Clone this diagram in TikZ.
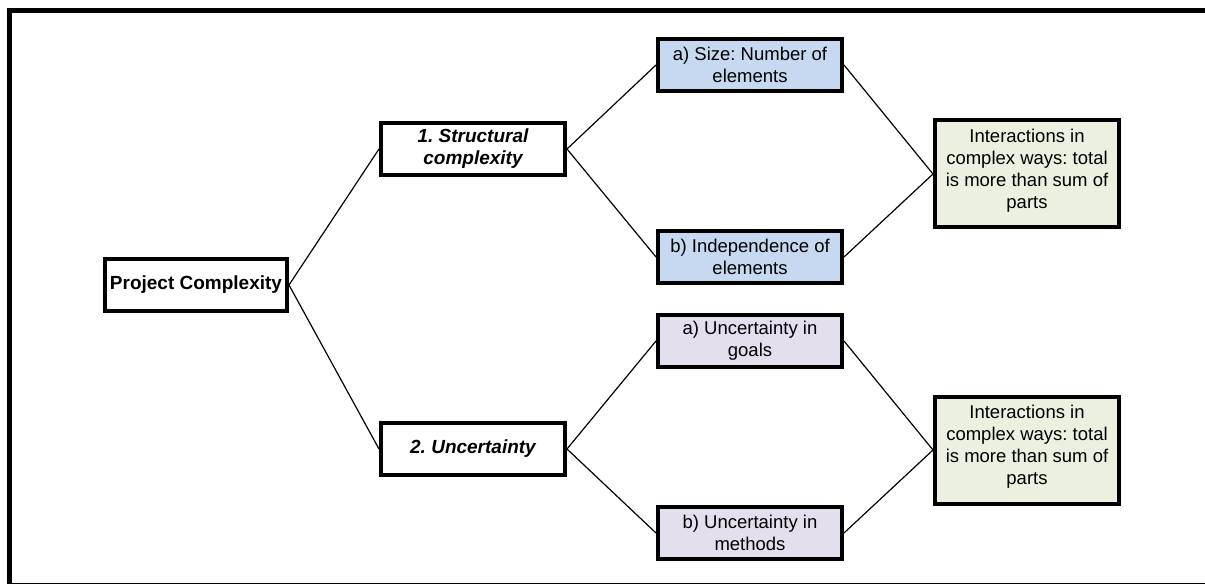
\documentclass[tikz,border=0pt]{standalone}
\usepackage{fontspec}
\setmainfont{Liberation Sans}
\usepackage{tikz}
\usetikzlibrary{positioning}
\frenchspacing

\definecolor{boxblue}{RGB}{198,217,240}
\definecolor{boxpurple}{RGB}{228,223,236}
\definecolor{boxgreen}{RGB}{235,241,222}

\begin{document}
\begin{tikzpicture}[x=1pt, y=-1pt]
    \tikzset{topic/.style = {shape=rectangle, draw, line width=4pt, minimum width=182pt, minimum height=52pt, inner sep=0pt, align=center, font=\fontsize{18.5}{22}\selectfont}}
    \tikzset{branch/.style = {topic, minimum width=184pt, font=\fontsize{19}{22}\selectfont\bfseries\itshape}}
    \tikzset{partblue/.style = {topic, minimum width=184pt, fill=boxblue}}
    \tikzset{partpurple/.style = {topic, minimum width=184pt, fill=boxpurple}}
    \tikzset{result/.style = {topic, minimum width=184pt, minimum height=107pt, fill=boxgreen}}
    \tikzset{link/.style = {-, line width=1.2pt}}

    \useasboundingbox (0,0) rectangle (1205,585);
    % frame
    \draw[line width=5pt] (1205,10.5) -- (9.5,10.5) -- (9.5,584);
    \draw[line width=1.5pt] (7,583.5) -- (1205,583.5);

    \node[topic, font=\fontsize{19}{22}\selectfont\bfseries] (proj) at (196, 285) {Project Complexity};
    \node[branch] (struct) at (473, 149) {1. Structural\\complexity};
    \node[branch] (uncert) at (473, 449) {2. Uncertainty};

    \node[partblue] (size) at (750, 65) {a) Size: Number of\\elements};
    \node[partblue] (indep) at (750, 257) {b) Independence of\\elements};
    \node[partpurple] (goals) at (750, 341) {a) Uncertainty in\\goals};
    \node[partpurple] (methods) at (750, 533) {b) Uncertainty in\\methods};

    \node[result] (inter1) at (1027, 174) {Interactions in\\complex ways: total\\is more than sum of\\parts\\[-12pt]\mbox{}};
    \node[result] (inter2) at (1027, 450) {Interactions in\\complex ways: total\\is more than sum of\\parts\\[-12pt]\mbox{}};

    \draw[link] (proj.east) -- (struct.west);
    \draw[link] (proj.east) -- (uncert.west);
    \draw[link] (struct.east) -- (size.west);
    \draw[link] (struct.east) -- (indep.west);
    \draw[link] (uncert.east) -- (goals.west);
    \draw[link] (uncert.east) -- (methods.west);
    \draw[link] (size.east) -- (inter1.west);
    \draw[link] (indep.east) -- (inter1.west);
    \draw[link] (goals.east) -- (inter2.west);
    \draw[link] (methods.east) -- (inter2.west);
\end{tikzpicture}
\end{document}
